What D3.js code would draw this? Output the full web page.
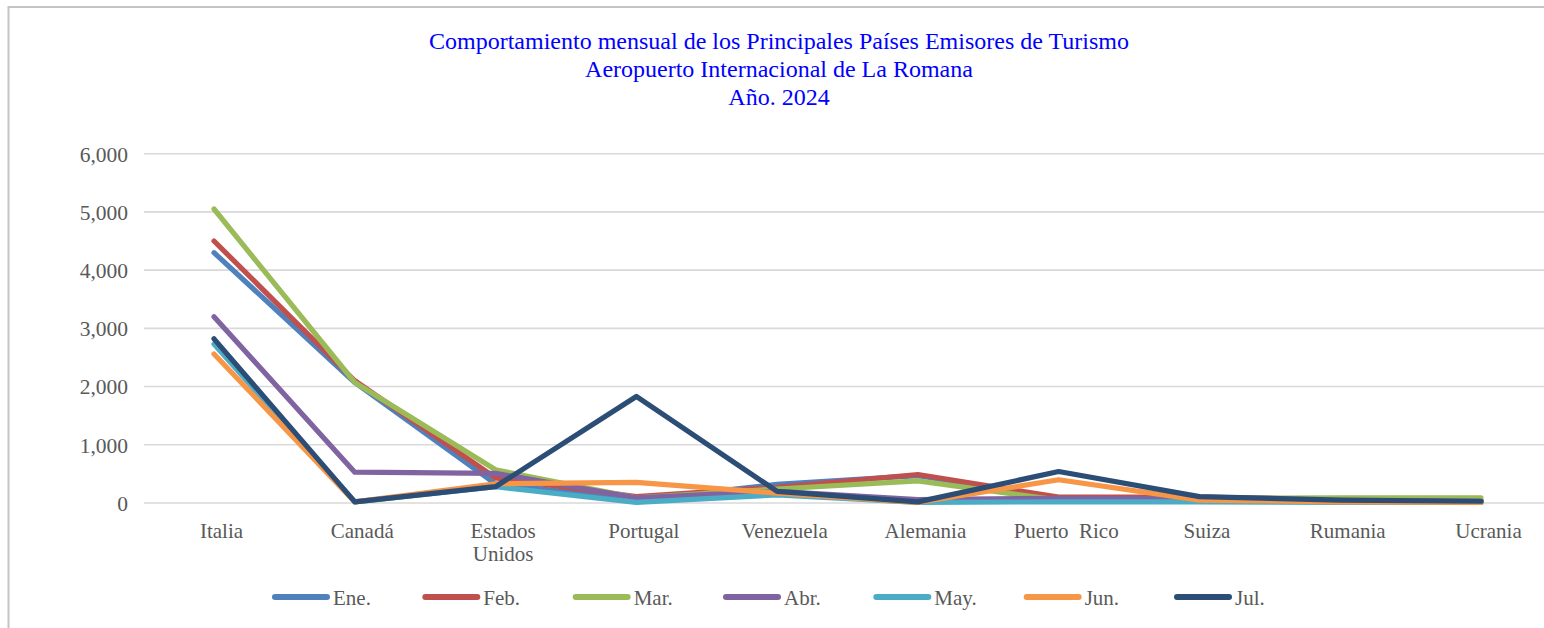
<!DOCTYPE html>
<html>
<head>
<meta charset="utf-8">
<script src="https://cdn.jsdelivr.net/npm/d3@7"></script>
<style>
  html, body { margin: 0; padding: 0; background: #ffffff; }
  svg { display: block; }
  text { font-family: "Liberation Serif", "Times New Roman", serif; white-space: pre; }
</style>
</head>
<body>
<svg id="chart" width="1544" height="628"></svg>
<script>
const titleLines = [
  "Comportamiento mensual de los Principales Países Emisores de Turismo",
  "Aeropuerto Internacional de La Romana",
  "Año. 2024"
];
const categories = ["Italia", "Canadá", "Estados Unidos", "Portugal", "Venezuela",
  "Alemania", "Puerto  Rico", "Suiza", "Rumania", "Ucrania"];
const months = ["Ene.", "Feb.", "Mar.", "Abr.", "May.", "Jun.", "Jul."];
const colors = ["#4F81BD", "#C0504D", "#9BBB59", "#8064A2", "#4BACC6", "#F79646", "#2C4D75"];
const ene = [4300, 2070, 330, 50, 320, 470, 90, 60, 40, 20];
const feb = [4500, 2100, 430, 110, 270, 490, 100, 100, 60, 40];
const mar = [5050, 2070, 570, 90, 240, 380, 50, 80, 90, 90];
const abr = [3200, 530, 510, 90, 200, 60, 80, 70, 40, 30];
const may = [2730, 20, 280, 10, 140, 10, 20, 20, 10, 10];
const jun = [2560, 20, 330, 355, 170, 10, 400, 50, 20, 10];
const jul = [2820, 20, 280, 1830, 200, 20, 540, 110, 50, 30];
const yTicks = [0, 1000, 2000, 3000, 4000, 5000, 6000];

const seriesValues = [ene, feb, mar, abr, may, jun, jul];
const series = months.map((m, i) => ({ name: m, color: colors[i], values: seriesValues[i] }));

const svg = d3.select("#chart");

// chart area border
svg.append("rect")
  .attr("x", 8.5).attr("y", 7)
  .attr("width", 1600).attr("height", 700)
  .attr("fill", "#ffffff")
  .attr("stroke", "#c4c4c4").attr("stroke-width", 2);

// title
svg.append("g").selectAll("text").data(titleLines).join("text")
  .attr("x", 779)
  .attr("y", (d, i) => 48.5 + i * 28)
  .attr("text-anchor", "middle")
  .attr("font-size", 24)
  .attr("fill", "#0000FF")
  .text(d => d);

const plotLeft = 144, plotRight = 1552;
const x = d3.scalePoint().domain(categories).range([214, 1481]);
const y = d3.scaleLinear().domain([0, 6000]).range([503, 153.7]);

// gridlines
svg.append("g").selectAll("line").data(yTicks).join("line")
  .attr("x1", plotLeft).attr("x2", plotRight)
  .attr("y1", d => y(d)).attr("y2", d => y(d))
  .attr("stroke", "#d9d9d9").attr("stroke-width", 1.6);

// y axis labels
const yAxis = d3.axisLeft(y).tickValues(yTicks).tickSize(0).tickPadding(0)
  .tickFormat(d3.format(","));
const gy = svg.append("g").attr("transform", "translate(128,0)").call(yAxis);
gy.select(".domain").remove();
gy.selectAll("text")
  .attr("font-family", "Liberation Serif, Times New Roman, serif")
  .attr("font-size", 21.5)
  .attr("fill", "#595959")
  .attr("dy", "0.34em");

// x axis labels
const xAxis = d3.axisBottom(x).tickSize(0).tickPadding(0);
const gx = svg.append("g").attr("transform", "translate(0,522)").call(xAxis);
gx.select(".domain").remove();
gx.selectAll(".tick text").each(function (d) {
  const t = d3.select(this);
  t.text(null)
    .attr("font-family", "Liberation Serif, Times New Roman, serif")
    .attr("font-size", 21)
    .attr("fill", "#595959")
    .attr("y", 0).attr("dy", 0);
  const words = d === "Estados Unidos" ? ["Estados", "Unidos"] : [d];
  words.forEach((w, i) => {
    t.append("tspan").attr("x", 7).attr("y", 15.5 + i * 23).text(w);
  });
});

// lines
const line = d3.line()
  .x((d, i) => x(categories[i]))
  .y(d => y(d));

svg.append("g").selectAll("path").data(series).join("path")
  .attr("d", d => line(d.values))
  .attr("fill", "none")
  .attr("stroke", d => d.color)
  .attr("stroke-width", 5.2)
  .attr("stroke-linejoin", "round")
  .attr("stroke-linecap", "round");

// legend
const legendX = d3.scalePoint().domain(months).range([273, 1175]);
const lg = svg.append("g").selectAll("g").data(series).join("g")
  .attr("transform", d => `translate(${legendX(d.name)},597)`);
lg.append("line")
  .attr("x1", 2).attr("x2", 54).attr("y1", 0).attr("y2", 0)
  .attr("stroke", d => d.color).attr("stroke-width", 6)
  .attr("stroke-linecap", "round");
lg.append("text")
  .attr("x", 60).attr("y", 7.5)
  .attr("font-size", 21)
  .attr("fill", "#595959")
  .text(d => d.name);
</script>
</body>
</html>
